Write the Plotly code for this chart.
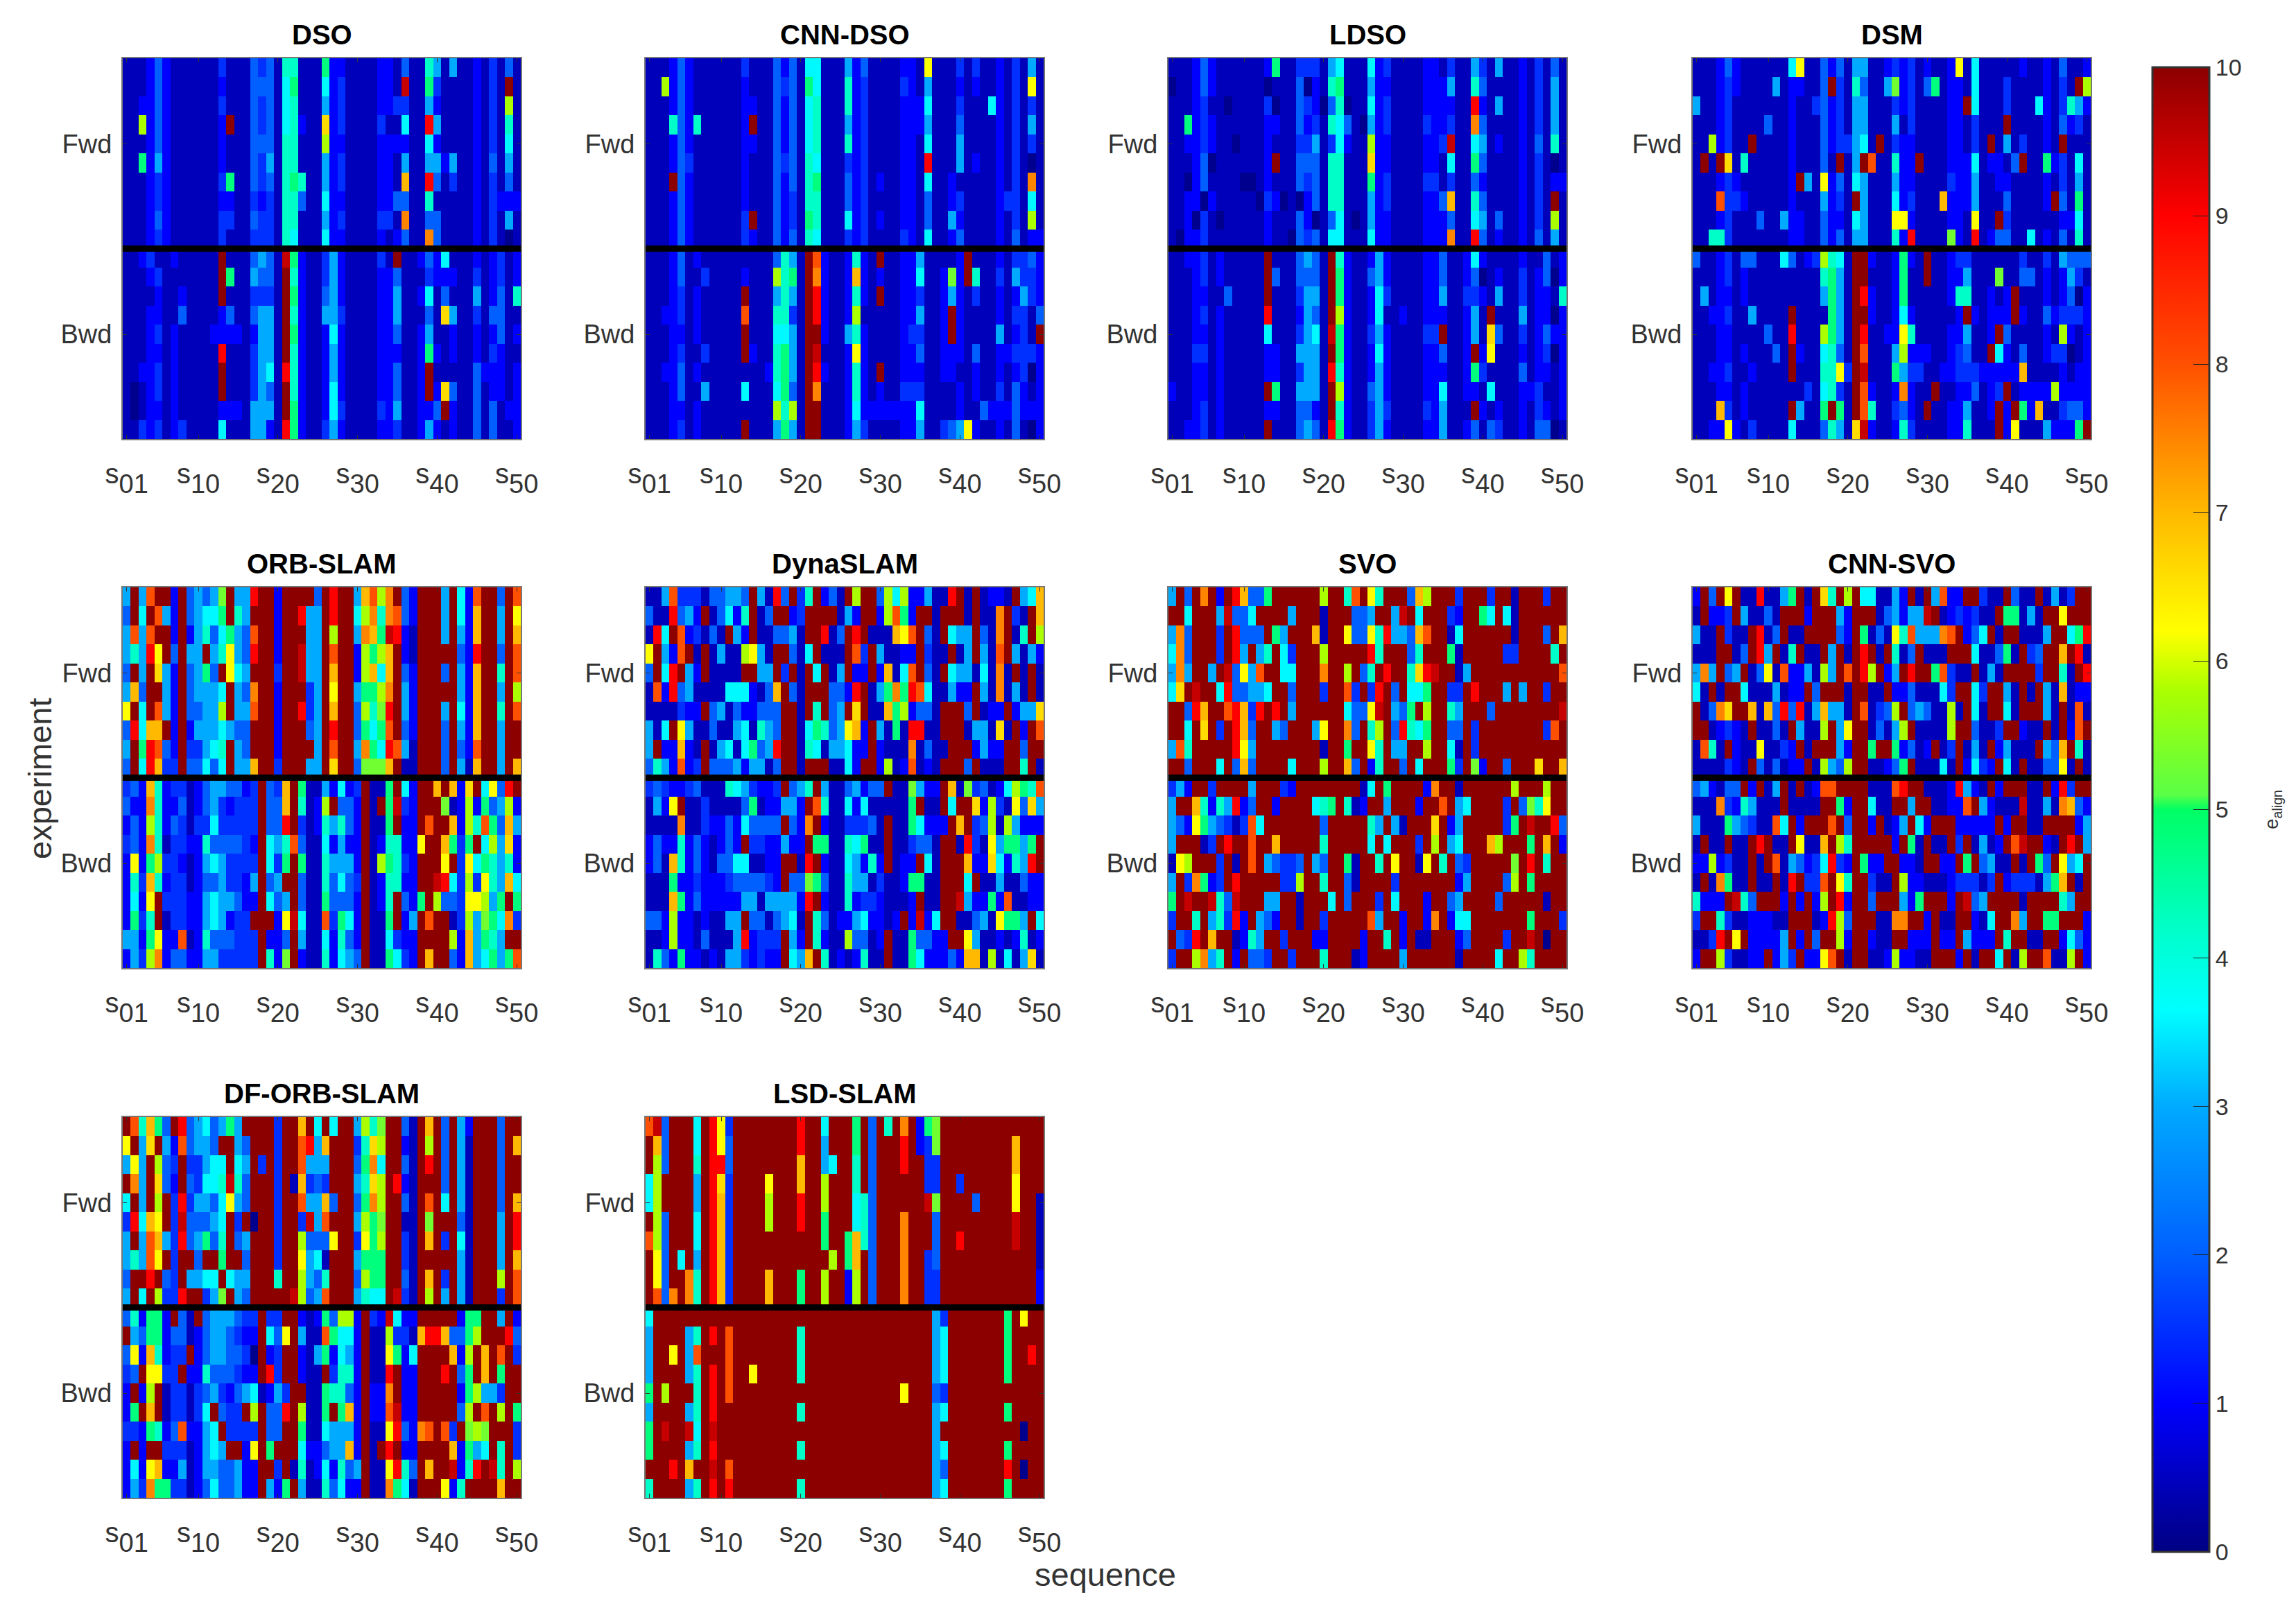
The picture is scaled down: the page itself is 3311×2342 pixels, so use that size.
import plotly.graph_objects as go

W, H = 3311, 2342
FONT = "Liberation Sans"

# Each letter/digit in a row is one read cell value, see LEVELS.
LEVELS = {"0": 0.1, "n": 0.45, "b": 1.0, "m": 1.5, "2": 2.0, "3": 3.0, "c": 3.6, "4": 4.2, "5": 4.8,
          "g": 5.3, "l": 5.8, "y": 6.2, "a": 6.6, "7": 7.0, "o": 7.5, "8": 8.0, "r": 9.0, "d": 9.5, "A": 10.0}

DSO = [
"nnnb2bnnnn|nnmnnn2m2n|44nnn5bbnn|nnbbn2nn43|n3nnbnmn2n",
"nnnb2bnnnn|nnbnnn222n|c5nnncbmnn|nnbbndnn5m|nnnnbnmnAn",
"nnbb2bnnnn|nnmnnn2m2n|c4nnn3bmnn|nnbbmmnn3b|nnnnbnmnln",
"nnlb2bnnnn|nnbAnn2m2n|c4bnnabmnn|nnmnncnnr3|nnnnbnmn4n",
"nnnb2bnnnn|nnbnnn222n|44nnnlbbnn|nnbbbbnncb|nnnnbnmncn",
"nn5b3bnnnn|nnbnnn2m3n|44nnn3bmnn|nnbbn3nn33|b3nnbn2n3n",
"nnnbmbnnnn|nnm5nn2m2n|454nn3bmnn|nnbbn7nnr2|nmnnbnmn2n",
"nnnbmbnnnn|nnbbnnmbmn|442nncbbnn|nnbb22nn4n|nnnnbnmbbb",
"nnnb2bnnnn|nnmmnn2mmn|44nnn3bmnn|nnmmnonn22|nnnnbnmn3n",
"nnnbmbnnnn|nnmnnnmmmn|4cnnncbbnn|nnbnb2nno2|nnnnbnmn0n",
"nnbmnnbnnn|nnAnnn232n|d5bnnm3bnn|nnmnAnnb2b|cnnnbnbmnb",
"nnnbmnnnnn|nnA5nn322n|A4bnnm3bnn|nnbb2nnnmb|bbnnmnbmnb",
"nnnnbnnbnn|nnAnnnmmmn|A5bnn23bnn|nnbb3nnbcn|2nnn3nb2n4",
"nnnbbnn2nn|nnb2nn233n|A4bnn33mnn|nnbb3nnn2n|a3nnmn22nn",
"nnnbmnbnnn|nbbbbnb33n|A5bnnbcbnn|nnbb2nnb3n|nbnnbnb2nb",
"nnnbbnbnnn|nnrnnnm33n|A4bnnb3bnn|nnbbbnnb5b|nbnnbnmbnn",
"nnbbmnbnnn|nnAnnnm3cn|r4bnnb3bnn|nnbb2nnbAn|nnnn2bbbnb",
"n0nbmnbnnn|nnAnnnm32n|A4bnnbcbnn|nnbb2nnbAb|a2nn2nbbnb",
"n0nbbnbnnn|nnbbbn333n|A5bnnbcmnn|nnmb3nnbb2|Abnn2n2nbb",
"nnmbmnbmnn|nncnnn33bn|r5bnnm3bnn|nnbbmnnb3b|nbnn2n2nnb",
]
CNN_DSO = [
"nnnb2bnnnn|nnmnnn2b2n|ccnnn3b2nn|nnbbnynnnm|nmnnbnmn3n",
"nnlb2bnnnn|nnbnnn2m2n|5cnnn4bmnn|nnmbn3nnnb|nbnnbnmnyn",
"nnnb2bnnnn|nnbbnn2b2n|c4nnn4bmnn|nnbbbcnnnm|nnncbnmnmn",
"nnn42b4nnn|nnbAnn2b2n|c4nnn3bmnn|nnbbb3nnn2|nnnnbnmn3n",
"nnnb2bnnnn|nnbbnn2b2n|c4nnn4bmnn|nnbbncnnn3|nnnnbnmnmn",
"nnnb2mnnnn|nnbnnn2m2n|4cnnnmbmnn|nnbbnrnnn3|nbnnbnmn0n",
"nnnA2bnnnn|nnbnnn2b2n|45nnn2bmnb|nnbbncnnbn|nnnnbnmnon",
"nnnb2bnnnn|nnbnnn2bmn|44nnn2bmnn|nnbbn2nnbm|nnnnbmmncn",
"nnnb2bnnnn|nnmAnn2bmn|54nnncbmnb|nnbbn2nn3b|nnnnbnmnln",
"nnnb2bnnnn|nnmbnn2b2n|4cnnnmbmnn|nnmbncnnb2|nnnnbn2nbb",
"nnnb2nbnnn|nnnnnn243n|A8bnnb4bnA|nnbb3nnnnb|Annnbnmm2b",
"nnnb2nnmnn|nnbnnnl45n|Aobnnb7bnb|nnbbcnnbgb|A4nnmn3mmb",
"nnnbmnbnnn|nnAnnn343n|Arbnnb4bnA|nnbbmnnb3b|nmnnbnb3mb",
"nnbbmnbnnn|nn8nnn44mn|Arbnnblnnn|nnbb3nnbAb|nnnnbnmmn2",
"nnnbbnbnnn|nnAnnncc3n|AAbnn34bnn|nnbmmnnbAb|nnnn3nbmnA",
"nnnbmnnmnn|nnAbnn453n|Adnnnbybnn|nnbb2nnbbb|n2nnbbmmmb",
"nnbb2nbnnn|nnnnnb453n|Arbnnb4bnA|nnbbbnnbbn|nbnnbnbm0b",
"nnnb2nn3nn|nncnnnc52n|Aonnnb4bnb|nnmmmnnnnb|nbnnmn2bnb",
"nnnbbnbnnn|nnnnnnl4ln|AAnnnbcbbb|bbbbcnnnnb|nn2bbb2bbb",
"nnnbmnbnnn|nnAnnn353n|AAnnnb3mnn|nnbb3nnm23|ybnnbn2n0b",
]
LDSO = [
"nnnb2bnnnn|nnb5nnmmmn|3cnnncbmnn|nnbbnmnn3m|n3nnbnmn2n",
"0nnb2bnnnn|nn0nnn20bn|45nnn3bbnn|nnbbb3nn42|nnnnbnmn3n",
"nnnbmnn0nn|nnm0nn2mb0|240nncbmnn|nnbbbbnnrb|n3nnbnmn3n",
"nn5bmbnnnn|nnbbnn2bmn|4c2n03bmnn|nnmbbmnno2|nnnnbnmn3n",
"nnbbmbnn0n|nnbnnnmm3n|mcbnnlbbnn|nnbbmdnnc3|nbnnbn2n4n",
"nnnb20nnnn|nnbAnn222n|44nnnabbnn|nnbbncnn52|nnnnbnmn0n",
"nn0b2nnnn0|0nbnnn2m2n|44nnn5bmnn|nnmmnmnn2b|nnnnbnmnbb",
"nnbb0bnnnn|n0mb0n0b2n|44nnn3bmnn|nnbb27nn42|nnnnbnmnAn",
"nnb0mn0nnn|nnbnnn2b0n|2cn0n3bbnn|nnbbb2nnc3|n2nnbnmnln",
"n0bbmnnnnn|nnbnn02m2n|ccnnncbbnn|nnbbbonnr2|nbnnbn2n3n",
"nnbbmnbnnn|nnAnnn232n|A4bnnb3bnn|nnbb2nnbcb|nnnnbnn2nb",
"nnnbmnbnnn|nnA2nn222n|A5bnn23bnn|nnbb2nnb20|nbnnmnb20b",
"nnnbbnn2nn|nnAnnnm33n|A5bnnbcmnn|nnbb3nnmmb|n3nnmnbbn4",
"nnnbmnbnnn|nnrnnnb32n|Albnnbcnnb|nnbbbnnb3n|Annn3nbb0b",
"nnnbbnbnnn|nncnnnm3cn|d5bnnm3bnn|nnmmAnnb3n|a2nnmnb2bb",
"nnnmmnbnnn|nnbbnn333n|A5bnnbcbnn|nnbb2nnbAb|ynnnbnbm0b",
"nnnbbnbnnn|nnbbnnm33n|r4bnnb3bnn|nnbbbnnb5m|nnnn2nbbnb",
"bnnbbnbnnn|nnA5nn333n|Albnn23bnn|nnbbcnnbbn|cnnnbbmnnb",
"nnnbmnbnnn|nnbbnn22bn|A4bnnm3mnn|nnmb3nnnAb|nbnnbnmbnb",
"nnbbmnbnnn|nnAnnn232n|r5bnnm3bnn|nnbb3nnb2n|2mnnbn220n",
]
DSM = [
"nnnb2bnnnn|nncynn2b2n|33nnbmbmnb|nnbyncnnnn|nbnnbn2nnb",
"nnnbmbnnnn|3nbbnn2Amn|42nn3gbmn2|5nbbncnnnm|nnnnbnmnAl",
"3nnbmnnnnn|nnbnnm2bmn|33nnnmbmnn|nnbbAcnnnm|nnncbnm43b",
"nnnbmnnnn2|nnbnnn2bmn|33nnn3nmnn|nnbbnmnnnA|nnnnbn2bmn",
"nnlbmnnAnn|nnbnnn2bmm|3cnAnmbbnn|nnbbnmnAn3|nmnnbnAnnn",
"nAnAan4nnn|nnbnnn2nAn|3A8nn4bbAn|nnbbbcnbbn|2Ann5bmncn",
"nnnbmbnnnn|nnbA3nyb2n|c3nnn3bbnn|nnmbb3nnbb|nnnnbnmn3n",
"nnn8mmbnnn|nnbnnn3bmn|A3nnncbmnn|n7bbb3nnn2|nnnnbA2n5n",
"nnnbmnnn2n|n3bbnn2bbn|c3nnnyybnn|nnbbnynnAm|nnnnnnbbcn",
"nn44mnnnnn|nnbbnn2b2n|33nnn4brnn|nngbnrnb22|nncnbn2n4n",
"2nnbmn22nn|nc2nbml4cn|AAbnnb5bnA|nnbmmnnnnn|nmnnmn3222",
"nnnbmnbnnn|nnnnnn453n|AAnnnb5nnA|nnbb3nnngn|n22nbnb3mn",
"n3nbbnbnnn|nnnnnn353n|Arbnnb5nnn|nnb44nnbnb|Annnbnb20b",
"nnbbmnn3nn|nnAnnnn53n|AAbnnbcbnn|nnnbAbnbbb|Abnn2bmmmb",
"nnnbbnnnn2|nnrnnnl53n|Arnnbby4nn|nnbb3nnbA2|nnnnbnlbnb",
"nnnbbnbnnn|2nAbnnc42n|A8nnn3lbbb|nnbm2nnAcb|n2nnbmm0nb",
"nnbbmnnbnn|nnAnnn44ym|Adnnn53mmn|nbbmmmbbbb|b7nnnnbnbb",
"nnnbbnbnnn|nnnnmnc4mn|A8bnnbobnn|Annbb2nbmA|nbbbblbbbb",
"nnn7mnbnnn|nnA3nn5A5n|A84nnm2bnA|nnbb3nnbAb|A5b7nnm22b",
"nnbbybnmnn|nncnnn243n|adbnnb4mnn|nnbb4nnnAb|ynnn3bbb5A",
]
ORB_SLAM = [
"3A38AAbA23|23gA33rAAb|AAAA2ArAA3|78loA2bAAA|3Acb8AA2A8",
"2AcA83bA23|cc5A43AAAb|AAr33ArAAc|lo4o82bAAA|3Acb7AA3Ay",
"3838AAbAb3|42c5328AAb|AAA33AlAA3|o75drbnAAA|3A3b7AA3A7",
"343ryA2A33|A34y32rAAb|AAd33A8AAb|l5l7AbnAAA|AA2brAA2A8",
"2A3Aa3bA23|52Ayc3AAAm|AAd33A7AAb|l7c7A2bAAA|2A3b7AA4A8",
"372AA3bA23|33cA32oAAb|AAAm3AyAA3|55loA3bAAA|AA3b7AA3Al",
"yAcA83bA22|33lA338AAb|AArm3A7AA2|l4grA3bAAA|3Acb7AA4A8",
"2rc77AbAb3|33c322AAAb|AAA23ArAA2|5c58A2bAAA|2A3b7AA3AA",
"3A5r82bAmm|3c4A32AAAb|AAAA3A8AA3|o5cr83nAAA|2A2b8AA3AA",
"2Acr7mmA22|c2cA337AAm|AAA33AaAA2|ggg7AnnAAA|2A3n7AA3A7",
"m2b74bmmnb|23322bmA2m|7A5nn3bcbm|Ann5AcbAA7|A7baAcy2rA",
"2bbo4bb2nb|23mbmmmA22|7A4nblA22b|AnA5dmbAAA|gnblb523lb",
"b2bl4b2mnm|mcmmmmmA22|rAmnb4342b|Ann5AbbA8A|A7bl485273",
"m2bo4nmmbb|42222mbAc3|482nncb3bb|Anb44bbyAA|75m5Acl3ab",
"byb5lmmbnb|3c3mmmmAcm|5A5nn4333b|Anl54mbAAA|yAmyc5434b",
"b4m74bmmnb|223mmb3A23|AA2nn42c2m|Anb44bbAAd|rcmlmy437c",
"bcbyAmmmbb|3c332bbAc2|3A2nn5222b|Anb4A2b5Al|22myyl35A5",
"b5m4Anmmbb|3c3bmmAAAb|ydcnn8m5cb|Ann5Ab3A8A|Anml3g5com",
"33b5ybb8nb|4222mmmAbb|2A3nncb42b|AnncmbbAAA|Alb73543AA",
"b3mlob22bb|33mmmmmA4b|gAbnn4bc32|Ann5cmbA7A|A2b73c5358",
]
DYNASLAM = [
"nn38mmmn22|332A3nr2Am|4Ab2nAlAA2|lclbb3nnrA|nAnbbnA3c7",
"2nnr23bAn2|cb4An2AAbm|AAAAn3bAAb|l85bAAnAAA|nAnnoAmnA7",
"nrcA8bmn2n|A3bAnn223n|AArn2ArAnn|n7y8A2nAc3|3A2noAn4Al",
"yA3b8AnAn3|nnly3nAA2n|cAnnnA8mA3|nnbbAmnnAn|3A3n8A3n3b",
"2AcrA3bAnn|nnAA33AmAn|AcAn3AbbAb|7nc8A2nAc3|3ncnonAnAn",
"n8br23nnnn|cccbn27A2n|AAA22brAn3|5o5r8cnn3b|bA3non3nAn",
"nnnnmbbA23|n2bb222AAn|A4A23AaAnn|75lb22nAAA|2AnbbAb33a",
"3ncAy3nn2n|n3cn432AAn|c5423y7bA3|n5nrrnnAAA|n33nanAbA8",
"3Abb7bnAn3|cnc523rAAn|4cn33cbbAb|nnnon2nnAA|Ab3bbAA2AA",
"243b8bmA22|23b33n2AAn|AAAnncbAAb|lnb8nbnAAA|2AnnnAA4An",
"m2mbbm2nnn|4c3mbbmA23|4A3nn23b22|Anng3bbA7n|gm2nbcl548",
"n3byAnnmnn|nn25nbb33b|A84nncbcnn|nnn5AnnAcA|Aablmny2a3",
"nnnnonnmbb|2bc2222A2b|oAbnnmmm2n|Ann5cbbbA7|Am2lnl3bbb",
"b2bb4b2bnb|2bAmmbb3bb|A55nn4c5nn|Annm22nAAn|rmny35535A",
"b2n74b2bn2|2ccnnbbAAn|rAbnnc3b4b|AnbbAcnAAA|7bbacb43rA",
"nnn5bbmbbb|m2222mbA22|g52nn433nm|nnb55nnAAA|cAnn3nn2bb",
"nnn75b2bbb|bb33n3333b|rAbnn4bmmb|nnnbAnnAAd|3bb5b8nnbb",
"22blbbnbnn|33A22n23cn|A42nbb3cbb|nbAbdbcAAn|n23ny553Ac",
"nnblbbn2nn|n3rbmmmA3b|A4bnnl22nb|Ann522bbAA|y3nnbnb4nb",
"n42b5bbnbn|33mbmbbAc3|7A4nbnb4nn|Ann5cbbb2b|77nlncn3an",
]
SVO = [
"3A2AoAbAr7|225AAAAAAl|AA48Ay4AAA|27lAAAmAAA|mAAnAAAmAA",
"AAcAAA3d22|cAAAA3AAAn|AAA223AA3d|AcAAAmbAA5|cAcnAAAAAA",
"3o2AAAmAr2|22A53AAA7n|AAy22y4r33|278AAncAAA|AAAnAAA2A7",
"co2AAAmAr3|A34AcmAAAl|AAAAAr4AAA|24AAA5nAAA|AAmmAAAA4A",
"3o3AA3Ad2y|38AAccAAAo|AAlA24ArAA|4ardAAn3AA|AAAAAAAAA8",
"caAdAAcr22|33cAA2AAAm|AA8mAmrA2A|cc5AAmmArA|AA3A3AAmAA",
"AA2r7AA8r7|mrArA3AAAA|AAc22ydA32|5AlAA43AAA|2AAAAAAAAd",
"AAcAaAmAr7|2AA32AAA3y|AAo2A4lA2r|4c5AA22AmA|AAAAAAAm8A",
"384AAAAAry|3AAAAAAAAn|AA5AAy4A33|AAlAAcnAmA|AAAAAAAAAA",
"AA2AAAcA27|2AAAAcAAAl|AA72Ab4AA2|AcAAA5mAgb|AA2AAAaAA7",
"m3bAAmAAAA|3AAAmbAAAA|AAAAncA5AA|AAboAAnAAA|AAAlAAAlAA",
"3AA74b43rb|2AAbAAAAc4|5A4nbAA3AA|AbAA8A3cAA|AAmA2g4yAA",
"32by532mnm|8cAAAAAAA2|AAAAA43A3n|AAAaAb3AAA|AAm5AdAAr2",
"3AAAnmArAA|8AA7AAAAA4|AAAAAcAcAA|AmAlA3cAAA|7lAAA5A7Ab",
"nylAAAmAnA|8A32mm2A32|AA5nAA4AyA|AnyA4A2mAA|AAAgArA4AA",
"3Amo5bmArA|AAAAmmlAA4|AA2nAAAAmA|AAAAAAb3AA|AA2lA5AAAA",
"5AdAAd42dA|AA33AAnAAA|cA2AAAmAcA|AAbAA23AAA|A2AAAAAnAA",
"mAA4A34mrb|A32bAAnAAm|AAAAA83AAb|AAboAbccAA|AAAAA5AAAm",
"A2mrA7AAnb|43AAmAAAbb|AAAAbAA4Ab|AnnAAAb2AA|AAmAAdA0AA",
"mAAlo34AbA|22mAAmAAA4|AAAnbAAAA3|AAAAAAnAAA|AcAAl4AAAA",
]
CNN_SVO = [
"bA2AyAnnrn|n35AnAa4Al|Accnn3bAnA|38bbAAmnnA|2nnAn3nmAA",
"nAbbmA3nn2|nAAAbAAA3b|AAAn23b33d|AnbmbmnnA5|5n3nAAyAAA",
"3nnAmnnArn|2AnnAAAA2b|A5n2ny4833|3o8Ab2cAnA|Annn3AAc5r",
"nnnAAn2Ar3|An4AnnA3An|ArAnA4n2An|nnAAAcnn25|nAm2AA7Arn",
"3o3A23An2y|n8bb3nl3A8|ArlAb3ArAA|58mnnAn3nA|AAAmAA4nAr",
"cnAnAAcnnn|3nbbA2AAAn|AAnnAbb2nn|ncmAAcmAA3|nAnA3n7nbb",
"An2oaAA7n7|2r2rn3733n|A8nm2lA232|nnlnAcnAAc|nAAA3nAn8n",
"AAnbmbnAnn|2nA3nnlA3y|AAn2n3lAnn|nnlAA2nnmA|AbnnAnAb8A",
"n84nAbnnyn|nmbAnAAA3b|AA5AA5b2nb|AnmAn3nAb3|nnnA327A4n",
"nnnnmbnA2n|2nbbAnl32l|AAnnb25Ann|ncnAbcmbAc|nAnn22ynAn",
"23bn22AbAn|3AnAnb88AA|AAnnn8rAAn|nnbr3bnAbA|AAnnAbrmAA",
"nnnomb43nn|nAnnnnAA5b|AAcnnAA3AA|nnbb8A3bnn|ndnn3no72b",
"3nnn532mnn|8cAbAAA8A2|AAbAnb3Acb|AAAbbbbbAb|AAnnAAAAb3",
"nAnnAnnArA|nnAynn7Al4|AAAAAbA5nA|nnAmAn3nbA|8dAAbnArA3",
"bblbmnnAnA|8n32bmcrmb|A5bbAAbbnA|AbbA5A23nn|AnA52Ay3cA",
"nAno5nnAnn|AnrAmm8Ay4|AAmnnAlbbn|nnbmmmnmAb|mmmn357AnA",
"4bbbAd42AA|AbAbAblArb|AA2AAA3b5A|AAbAd23AAA|AnAAAA43AA",
"mAA4mnnbbb|nnAAAnbrl2|AAAnnooAAb|AnnAAbncAA|o3AA55AAAb",
"nnmrAyAbbb|b3AbA2AAlb|AAbnnAAbbb|AbbA3bbbA4|AAnnAAbc2b",
"bAAlmnnbbA|b3mAbby8An|AAnnblbbnn|AAAbAnAAcA|nlAA8nnlAb",
]
DF_ORB_SLAM = [
"A84752Ar23|c2353AAAAm|AA7AcAcAA3|l4gAA2nA7A|2A3bAAA2AA",
"yA3aA3b823|32AA32AAAm|AA8r37AAAm|4alAAbnAlA|2A3nAAA2A7",
"3y3Al2mAmm|3ccAc3AmAm|AA8333AAA2|5ocAA2nArA|2A3nAAA2AA",
"Ao3Aa2bA2m|cc4d42AAAm|An7m2mAAA3|4alArbnAAA|2A3nAAA2AA",
"cA3AlAmrm3|32cy32AAAm|AA83372AA2|5olAA2nA8A|cA3nAAA2A7",
"mrc7yAmd22|23cAmA0AAm|AAmd38AAA3|l5gAAnnAgA|AA2nAAA3Ar",
"3A3873mr23|524A23AAAm|AAl222yAAm|y5lAAmnA7A|mAcnAAA3Ar",
"3438yAmAA2|AA5AA2AAAm|AAy3cnAAA3|555AAmnAAA|AA3nAAA3A7",
"2AArA2mA33|ccAc33AAA4|AAl324AAA2|l55AA2nA7A|mA3nAAAlA8",
"3AcAlmmrAA|m3gA32AAAA|Adl238AAA3|4ccAdmnAlA|3A3nAAAmA8",
"24b55bA2nA|23332mmAmm|AAbnb52llb|AmbdcbbAAA|AAb55AA3Ab",
"A3255b22nb|2332mbbAc2|yA3nn85ccb|Annlmmn7rr|7225lAAAr2",
"2yb74bmmAb|23322m0Abm|AAbn35bc3b|Anny5bcAAA|A7blA7A8Am",
"m2AyymmAbb|4222mbbArm|AAbnnAm44b|AnnrAbbAAA|rA25A7A5AA",
"bAblAnmmnm|23mb23cnb3|mAAnn5442b|AbboAbbAAA|AAb5l33mAA",
"b5A7Anmmnm|cA2mmAlA22|rAlnn5A57b|Abb8dbbAAA|AA2lA8AlA5",
"mmb54b28bb|3cAmmmmA22|AA5nnc333b|Annyr2bo8A|8mAglgAAAm",
"bAbAAmmmnb|3c3AAbyA5A|AAcbb2337b|AnArAbbAAA|A7b53cA4Am",
"bcby7bb3nb|33223bbAAm|An4nbcb423|Annyr42A7A|Adb4rAd4Al",
"b3mo55mmnb|2c223bbA3b|5A3nn42cbb|Anno5cnAAA|yb4AAAA7AA",
]
LSD_SLAM = [
"8d2AAAcAry|mAAAAAAAAr|AAcAAA5A2A|4AoAb5gAAA|AAAAAAAAAA",
"A72AAAcAry|2AAAAAAAAr|AA3AAA5A2A|AArAbmgAAA|AAAAAA7AAA",
"Al2AAA4Arr|2AAAAAAAA7|AA3cAA4A2A|AArAAmmAAA|AAAAAA7AAA",
"clAAAA3Ara|mAAAAyAAA7|AAlAAA4A2A|AAAAAmmAAm|AAAAAAyAAA",
"clAAAA3Ar7|mAAAAlAAAr|AAlAAAc42A|AAAAAdgAAA|A2AAAAyAAn",
"Al2AAAcAr7|mAAAAlAAAr|AA5AAAc42A|AAoAAA2AAA|AAAAAAdAAn",
"8l2AAAcAr7|mAAAAAAAAA|AA5AA5742A|AAoAAA2AAr|AAAAAAdAAn",
"Ay2AcA3Ar7|mAAAAAAAAA|AAAlA57A2A|AAoAAm2AAA|AAAAAAAAAn",
"Ay2AAo4Ar7|mAAAA7AAA5|AAlAAblA2A|AAoAAmmAAA|AAAAAAAAAb",
"A82oAo4Ar7|mAAAA7AAA5|AAlAAblA2A|AAoAAmmAAA|AAAAAAAAAb",
"cAAAAAAAAA|AAAAAAAAAA|AAAAAAAAAA|AAAAAA3mAA|AAAAA5AyAA",
"3AAAA34ArA|8AAAAAAAA4|AAAAAAAAAA|AAAAAA3cAA|AAAAA5AAAA",
"3AAyA38AAA|8AAAAAAAA4|AAAAAAAAAA|AAAAAA3cAA|AAAAA5AArA",
"3AAAA34ArA|8AAyAAAAA4|AAAAAAAAAA|AAAAAA3cAA|AAAAA5AAAA",
"5AlAAA4ArA|8AAAAAAAAA|AAAAAAAAAA|AAyAAA2mAA|AAAAAAAAAA",
"3AAAA34ArA|AAAAAAAAA4|AAAAAAAAAA|AAAAAA3cAA|AAAAA5AAAA",
"5AdAAdcAdA|AAAAAAAAAA|AAAAAAAAAA|AAAAAA3AAA|AAAAAAA0AA",
"5AAAA34ArA|AAAAAAAAA4|AAAAAAAAAA|AAAAAA3cAA|AAAAA5AAAA",
"AAArA7AAdA|8AAAAAAAAA|AAAAAAAAAA|AAAAAA32AA|AAAAArA0AA",
"4AAAA34ArA|rAAAAAAAA4|AAAAAAAAAA|AAAAAA3cAA|AAAAA5AAAA",
]

TITLES = ["DSO", "CNN-DSO", "LDSO", "DSM", "ORB-SLAM", "DynaSLAM", "SVO", "CNN-SVO", "DF-ORB-SLAM", "LSD-SLAM"]
PANELS = [DSO, CNN_DSO, LDSO, DSM, ORB_SLAM, DYNASLAM, SVO, CNN_SVO, DF_ORB_SLAM, LSD_SLAM]
X_TICKS = [1, 10, 20, 30, 40, 50]
X_LABELS = ["01", "10", "20", "30", "40", "50"]
Y_TICKS = [5, 15]
Y_LABELS = ["Fwd", "Bwd"]
CBAR_TICKS = list(range(0, 11))


def decode(name, rows):
    out = []
    for i, row in enumerate(rows):
        s = row.replace("|", "")
        if len(s) != 50:
            raise ValueError(f"{name} row {i} has {len(s)} cells")
        out.append([LEVELS[c] for c in s])
    return out


JET = [(0, "rgb(0,0,130)"), (1, "rgb(0,0,255)"), (2, "rgb(0,95,255)"), (3, "rgb(0,170,255)"),
       (3.65, "rgb(0,255,255)"), (4.2, "rgb(0,255,200)"), (5.0, "rgb(0,255,100)"), (5.1, "rgb(90,255,70)"),
       (5.8, "rgb(170,255,0)"), (6.2, "rgb(255,255,0)"), (7, "rgb(255,185,0)"), (8, "rgb(255,80,0)"),
       (9, "rgb(255,0,0)"), (10, "rgb(140,0,0)")]
COLORSCALE = [[v / 10, c] for v, c in JET]

# panel frames in page pixels: left edges, tops
LEFTS = [177, 931, 1685, 2441]
TOPS = [84, 847, 1611]
PW, PH = 574, 549

fig = go.Figure()
tick_text = [f's<sub><sub><span style="font-size:38px">{t}</span></sub></sub>' for t in X_LABELS]
ann = []
shapes = []
for i, (title, rows) in enumerate(zip(TITLES, PANELS)):
    r, c = divmod(i, 4)
    idx = "" if i == 0 else str(i + 1)
    z = decode(title, rows)
    fig.add_trace(go.Heatmap(z=z, x=list(range(1, 51)), y=list(range(1, 21)),
                             coloraxis="coloraxis", xaxis=f"x{idx}", yaxis=f"y{idx}", zsmooth=False,
                             hovertemplate="%{z}<extra></extra>"))
    l, t = LEFTS[c], TOPS[r]
    xa = dict(domain=[l / W, (l + PW) / W], anchor=f"y{idx}", range=[0.5, 50.5], tickmode="array", automargin=False,
              tickvals=X_TICKS, ticktext=tick_text, ticks="inside", ticklen=6, tickcolor="#333", tickwidth=1,
              tickangle=0, ticklabelstandoff=14, showgrid=False, zeroline=False, showline=True, mirror="ticks",
              linecolor="#777", linewidth=2, tickfont=dict(family=FONT, size=40, color="#333"))
    ya = dict(domain=[1 - (t + PH) / H, 1 - t / H], anchor=f"x{idx}", range=[20.5, 0.5], tickmode="array",
              automargin=False, tickvals=Y_TICKS, ticktext=Y_LABELS, ticks="inside", ticklen=6, tickcolor="#333",
              tickwidth=1, showgrid=False, zeroline=False, showline=True, mirror="ticks", linecolor="#777",
              linewidth=2, tickfont=dict(family=FONT, size=38, color="#333"), ticklabelstandoff=6)
    fig.update_layout({f"xaxis{idx}": xa, f"yaxis{idx}": ya})
    shapes.append(dict(type="line", xref=f"x{idx}", yref=f"y{idx}", x0=0.5, x1=50.5,
                       y0=len(rows) / 2 + 0.5, y1=len(rows) / 2 + 0.5, line=dict(color="black", width=9)))
    ann.append(dict(text=f"<b>{title}</b>", xref="x" + idx + " domain", yref="paper", x=0.5,
                    y=1 - 50 / H if r == 0 else 1 - (TOPS[r] - 34) / H, showarrow=False, xanchor="center",
                    yanchor="middle", font=dict(family=FONT, size=40, color="black")))

ann += [
    dict(text="experiment", xref="paper", yref="paper", x=57 / W, y=1 - 1123 / H, textangle=-90, showarrow=False,
         font=dict(family=FONT, size=47, color="#333"), xanchor="center", yanchor="middle"),
    dict(text="sequence", xref="paper", yref="paper", x=1594 / W, y=1 - 2270 / H, showarrow=False,
         font=dict(family=FONT, size=47, color="#333"), xanchor="center", yanchor="middle"),
    dict(text="e<sub>align</sub>", xref="paper", yref="paper", x=3277 / W, y=1 - 1168 / H, textangle=-90,
         showarrow=False, font=dict(family=FONT, size=28, color="#333"), xanchor="center", yanchor="middle"),
]

fig.update_layout(
    width=W, height=H, margin=dict(l=0, r=0, t=0, b=0, autoexpand=False), paper_bgcolor="white", plot_bgcolor="white",
    annotations=ann, shapes=shapes, showlegend=False,
    coloraxis=dict(cmin=0, cmax=10, colorscale=COLORSCALE, colorbar=dict(
        x=3104 / W, xanchor="left", xpad=0, ypad=0, y=1 - 97 / H, yanchor="top", lenmode="fraction", len=2141 / H,
        thicknessmode="pixels", thickness=82, tickmode="array", tickvals=CBAR_TICKS, ticks="inside", ticklen=24,
        tickcolor="#222", tickwidth=1, outlinecolor="#333", outlinewidth=3,
        tickfont=dict(family=FONT, size=34, color="#333"))),
)
fig.write_html("out.html", config=dict(displayModeBar=False),
               post_script="document.body.style.margin='0';document.body.style.overflow='hidden';")
